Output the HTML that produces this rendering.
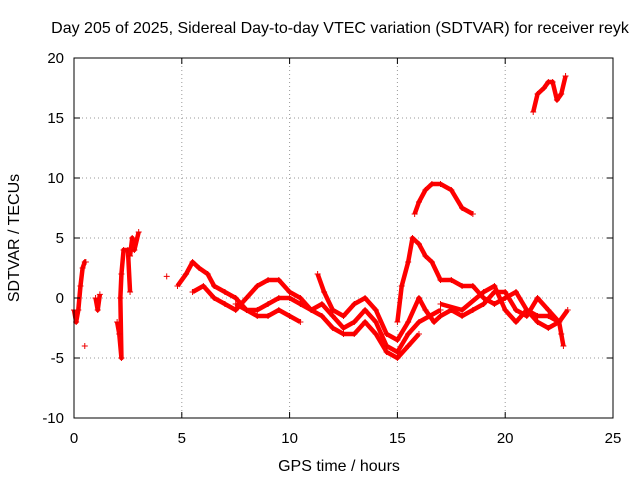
<!DOCTYPE html>
<html><head><meta charset="utf-8"><style>
body{margin:0;background:#fff;}
svg{display:block;font-family:"Liberation Sans",Arial,sans-serif;}
</style></head><body>
<svg id="chart" width="640" height="480">
<text x="340" y="33" font-size="16" text-anchor="middle">Day 205 of 2025, Sidereal Day-to-day VTEC variation (SDTVAR) for receiver reyk</text>
<text x="339" y="471" font-size="16" text-anchor="middle">GPS time / hours</text>
<text transform="translate(19,238) rotate(-90)" font-size="16" text-anchor="middle">SDTVAR / TECUs</text>
<g id="grid"></g><g id="marks"></g>
<rect x="74" y="58" width="539" height="360" fill="none" stroke="#000"/>
<g id="ticks"></g>
</svg>
<script>
const xTicks=[0,5,10,15,20,25];
const yTicks=[-10,-5,0,5,10,15,20];
const trackA=[[4.8,1],[5.2,2],[5.5,3],[5.8,2.5],[6.2,2],[6.5,1],[7,0.5],[7.5,0],[8,-1],[8.5,-1.5],[9,-1.5],[9.5,-1],[10,-1.5],[10.5,-2]];
const trackB=[[5.5,0.5],[6,1],[6.5,0],[7,-0.5],[7.5,-1],[8,0],[8.5,1],[9,1.5],[9.5,1.5],[10,0.5],[10.5,0],[11,-1],[11.5,-1.5],[12,-2.5],[12.5,-3],[13,-3],[13.5,-2],[14,-3],[14.5,-4.5],[15,-5],[15.5,-4],[16,-3]];
const trackC=[[7.5,-0.5],[8,-1],[8.5,-1],[9,-0.5],[9.5,0],[10,0],[10.5,-0.5],[11,-1],[11.5,-0.5],[12,-1.5],[12.5,-2.5],[13,-2],[13.5,-1],[14,-2],[14.5,-4],[15,-4.5],[15.5,-3],[16,-2],[16.5,-1.5],[17,-1]];
const trackD=[[11.3,2],[11.6,0.5],[12,-1],[12.5,-1.5],[13,-0.5],[13.5,0],[14,-1],[14.5,-3],[15,-3.5],[15.5,-2],[16,0],[16.3,-1],[16.7,-2],[17,-1.5],[17.5,-1],[18,-1.5],[18.5,-1],[19,-0.5],[19.5,0.5],[20,0.5],[20.5,-1],[21,-1.5],[21.5,0],[22,-1],[22.5,-2],[22.9,-1]];
const trackE=[[15,-2],[15.2,1],[15.5,3],[15.7,5],[16,4.5],[16.3,3.5],[16.6,3],[17,1.5],[17.5,1.5],[18,1],[18.5,1],[19,0],[19.5,-0.5],[20,0],[20.5,0.5],[21,-1],[21.5,-1.5],[22,-1.5],[22.5,-2],[22.6,-3],[22.7,-4]];
const trackF=[[15.8,7],[16,8],[16.3,9],[16.6,9.5],[17,9.5],[17.5,9],[18,7.5],[18.5,7]];
const trackG=[[21.3,15.5],[21.5,17],[21.8,17.5],[22,18],[22.2,18],[22.4,16.5],[22.6,17],[22.8,18.5]];
const trackH=[[17,-0.5],[18,-1],[19,0.5],[19.5,1],[20,-1],[20.5,-2],[21,-1],[21.5,-2],[22,-2.5],[22.5,-2]];
const trackI=[[0,-1],[0.1,-2],[0.2,-1],[0.3,1],[0.4,2.5],[0.5,3],[0.55,3]];
const trackJ=[[1,0],[1.1,-1],[1.2,0.3]];
const trackK=[[2.0,-2],[2.1,-3],[2.2,-5],[2.15,0],[2.2,2],[2.3,4],[2.5,4],[2.6,0.5]];
const trackL=[[2.6,3.5],[2.7,5],[2.8,4],[3.0,5.5]];
const isolated=[[0.5,-4],[4.3,1.8]];
const tracks=[trackA,trackB,trackC,trackD,trackE,trackF,trackG,trackH,trackI,trackJ,trackK,trackL];
const X=v=>74+v*(539/25), Y=v=>418-(v+10)*12;
const NS="http://www.w3.org/2000/svg";
const g=document.getElementById('grid'),m=document.getElementById('marks'),t=document.getElementById('ticks');
function mk(tag,a,p){const e=document.createElementNS(NS,tag);for(const k in a)e.setAttribute(k,a[k]);p.appendChild(e);return e;}
xTicks.forEach(v=>{
 if(v>0&&v<25){const l=mk('line',{x1:X(v),x2:X(v),y1:58,y2:418,stroke:'#999','stroke-dasharray':'1,3'},g);
 
 }
 mk('line',{x1:X(v),x2:X(v),y1:418,y2:412,stroke:'#000'},t);mk('line',{x1:X(v),x2:X(v),y1:58,y2:64,stroke:'#000'},t);
 const tx=mk('text',{x:X(v),y:443,'font-size':15,'text-anchor':'middle'},t);tx.textContent=v;
 
 
});
yTicks.forEach(v=>{
 if(v>-10&&v<20){const l=mk('line',{x1:74,x2:613,y1:Y(v),y2:Y(v),stroke:'#999','stroke-dasharray':'1,3'},g);
 
 }
 mk('line',{x1:74,x2:80,y1:Y(v),y2:Y(v),stroke:'#000'},t);mk('line',{x1:613,x2:607,y1:Y(v),y2:Y(v),stroke:'#000'},t);
 const tx=mk('text',{x:64,y:Y(v)+5,'font-size':15,'text-anchor':'end'},t);tx.textContent=v;
 
 
});
function plus(p){const x=X(p[0]),y=Y(p[1]);
 const e=mk('path',{d:`M${x-3} ${y}H${x+3}M${x} ${y-3}V${y+3}`,stroke:'#e00',fill:'none'},m);
 
 }
tracks.forEach(tr=>{
 const pl=mk('polyline',{points:tr.map(p=>X(p[0])+','+Y(p[1])).join(' '),fill:'none',stroke:'#f00','stroke-width':4.5,'stroke-linejoin':'round'},m);
 
 
 tr.forEach(plus);
});
isolated.forEach(plus);
</script>
</body></html>
